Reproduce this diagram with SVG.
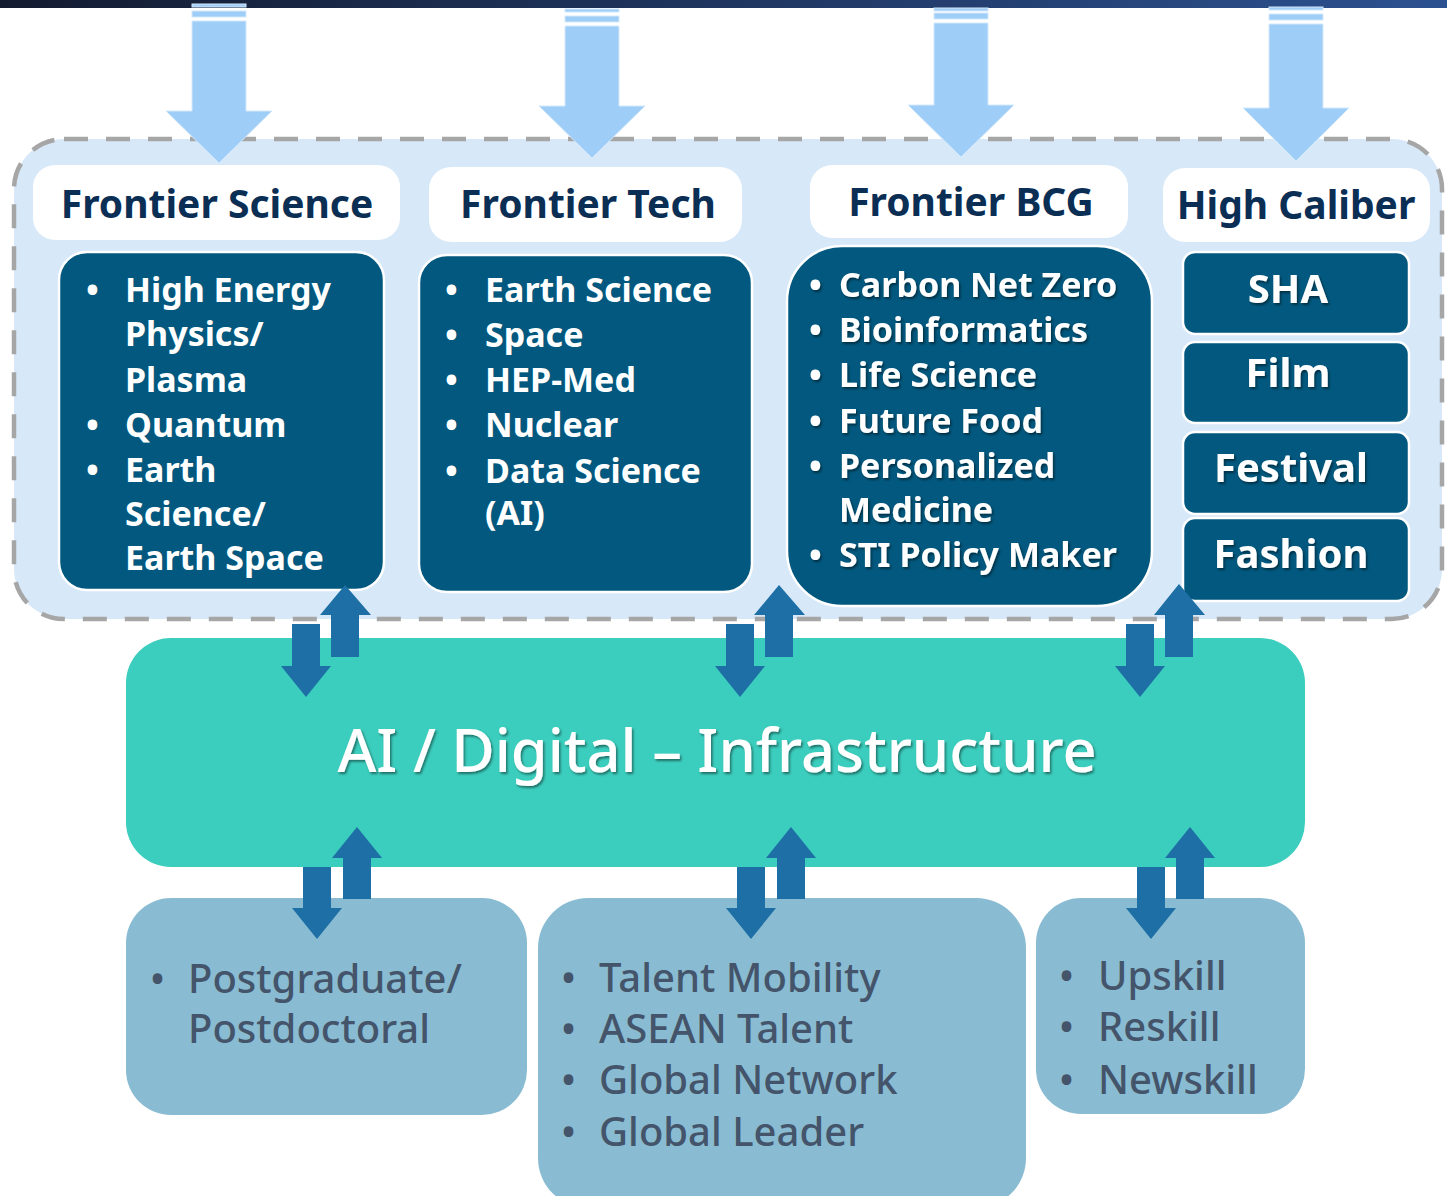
<svg xmlns="http://www.w3.org/2000/svg" width="1447" height="1196" viewBox="0 0 1447 1196">
<style>
.hdr{fill:#ffffff}
.hdrt{font-family:"Noto Sans","Open Sans",sans-serif;font-weight:700;font-size:39px;fill:#0b2e55;text-anchor:middle}
.dark{fill:#02587e;stroke:#ffffff;stroke-width:2.5}
.wt{font-family:"Noto Sans","Open Sans",sans-serif;font-weight:700;font-size:34px;fill:#ffffff}
.hc{font-family:"Noto Sans","Open Sans",sans-serif;font-weight:700;font-size:40px;fill:#ffffff;text-anchor:middle}
.bot{fill:#89bcd2}
.bt{font-family:"Noto Sans","Open Sans",sans-serif;font-weight:500;font-size:40px;fill:#44546a}
.la{fill:#9ecdf7;stroke:#d3e9fc;stroke-width:1}
.da{fill:#1d6fa5}
</style>
<defs>
<linearGradient id="bar" x1="0" y1="0" x2="1" y2="0">
<stop offset="0" stop-color="#131b30"/>
<stop offset="1" stop-color="#2c5190"/>
</linearGradient>
<filter id="sh" x="-10%" y="-20%" width="120%" height="150%">
<feDropShadow dx="1.5" dy="2" stdDeviation="1" flood-color="#000" flood-opacity="0.45"/>
</filter>
</defs>
<rect width="1447" height="1196" fill="#ffffff"/>
<rect x="0" y="0" width="1447" height="8" fill="url(#bar)"/>

<g id="panel">
<rect x="14" y="139" width="1428" height="480" rx="50" fill="#d7e8f9" stroke="#a6a6a6" stroke-width="4.5" stroke-dasharray="24 18"/>
</g>

<g id="frontier-science">
<rect class="hdr" x="33" y="165" width="367" height="75" rx="22"/>
<text class="hdrt" x="217" y="218">Frontier Science</text>
<rect class="dark" x="59" y="252" width="325" height="338" rx="28"/>
<g class="wt">
<text x="86" y="302">•</text><text x="125" y="302">High Energy</text>
<text x="125" y="346">Physics/</text>
<text x="125" y="392">Plasma</text>
<text x="86" y="437">•</text><text x="125" y="437">Quantum</text>
<text x="86" y="482">•</text><text x="125" y="482">Earth</text>
<text x="125" y="526">Science/</text>
<text x="125" y="570">Earth Space</text>
</g>
</g>

<g id="frontier-tech">
<rect class="hdr" x="429" y="167" width="313" height="75" rx="22"/>
<text class="hdrt" x="588" y="218">Frontier Tech</text>
<rect class="dark" x="419" y="255" width="333" height="337" rx="28"/>
<g class="wt">
<text x="445" y="302">•</text><text x="485" y="302">Earth Science</text>
<text x="445" y="347">•</text><text x="485" y="347">Space</text>
<text x="445" y="392">•</text><text x="485" y="392">HEP-Med</text>
<text x="445" y="437">•</text><text x="485" y="437">Nuclear</text>
<text x="445" y="483">•</text><text x="485" y="483">Data Science</text>
<text x="485" y="525">(AI)</text>
</g>
</g>

<g id="frontier-bcg">
<rect class="hdr" x="810" y="165" width="318" height="73" rx="22"/>
<text class="hdrt" x="971" y="216">Frontier BCG</text>
<rect class="dark" x="787" y="246" width="365" height="360" rx="55"/>
<g class="wt" filter="url(#sh)">
<text x="809" y="297">•</text><text x="839" y="297">Carbon Net Zero</text>
<text x="809" y="342">•</text><text x="839" y="342">Bioinformatics</text>
<text x="809" y="387">•</text><text x="839" y="387">Life Science</text>
<text x="809" y="433">•</text><text x="839" y="433">Future Food</text>
<text x="809" y="478">•</text><text x="839" y="478">Personalized</text>
<text x="839" y="522">Medicine</text>
<text x="809" y="567">•</text><text x="839" y="567">STI Policy Maker</text>
</g>
</g>

<g id="high-caliber">
<rect class="hdr" x="1163" y="168" width="267" height="74" rx="22"/>
<text class="hdrt" x="1296" y="219">High Caliber</text>
</g>
<g id="sha">
<rect class="dark" x="1183" y="252" width="226" height="82" rx="12"/>
<text class="hc" x="1288" y="303" filter="url(#sh)">SHA</text>
</g>
<g id="film">
<rect class="dark" x="1183" y="342" width="226" height="81" rx="12"/>
<text class="hc" x="1288" y="387" filter="url(#sh)">Film</text>
</g>
<g id="festival">
<rect class="dark" x="1183" y="432" width="226" height="82" rx="12"/>
<text class="hc" x="1291" y="482" filter="url(#sh)">Festival</text>
</g>
<g id="fashion">
<rect class="dark" x="1183" y="518" width="226" height="83" rx="12"/>
<text class="hc" x="1291" y="568" filter="url(#sh)">Fashion</text>
</g>

<g id="ai-infrastructure">
<rect x="126" y="638" width="1179" height="229" rx="45" fill="#3bcdbd"/>
<text x="717" y="772" font-family="'Noto Sans','Open Sans',sans-serif" font-weight="500" font-size="59.5" fill="#ffffff" text-anchor="middle" filter="url(#sh)">AI / Digital – Infrastructure</text>
</g>

<g id="postgraduate">
<rect class="bot" x="126" y="898" width="401" height="217" rx="45"/>
<g class="bt">
<text x="150" y="993">•</text><text x="188" y="993">Postgraduate/</text>
<text x="188" y="1043">Postdoctoral</text>
</g>
</g>

<g id="talent">
<rect class="bot" x="538" y="898" width="488" height="310" rx="50"/>
<g class="bt">
<text x="561" y="992">•</text><text x="599" y="992">Talent Mobility</text>
<text x="561" y="1043">•</text><text x="599" y="1043">ASEAN Talent</text>
<text x="561" y="1094">•</text><text x="599" y="1094">Global Network</text>
<text x="561" y="1146">•</text><text x="599" y="1146">Global Leader</text>
</g>
</g>

<g id="skills">
<rect class="bot" x="1036" y="898" width="269" height="216" rx="45"/>
<g class="bt">
<text x="1059" y="990">•</text><text x="1098" y="990">Upskill</text>
<text x="1059" y="1041">•</text><text x="1098" y="1041">Reskill</text>
<text x="1059" y="1094">•</text><text x="1098" y="1094">Newskill</text>
</g>
</g>

<g id="connectors">
<rect class="la" x="192" y="4" width="54" height="3"/>
<rect class="la" x="192" y="11" width="54" height="6"/>
<path class="la" d="M192 21 H246 V111 H272 L219 163 L166 111 H192 Z"/>
<rect class="la" x="565" y="9" width="54" height="3"/>
<rect class="la" x="565" y="16" width="54" height="6"/>
<path class="la" d="M565 26 H619 V106 H645 L592 158 L539 106 H565 Z"/>
<rect class="la" x="934" y="8" width="54" height="3"/>
<rect class="la" x="934" y="13" width="54" height="6"/>
<path class="la" d="M934 23 H988 V105 H1014 L961 157 L908 105 H934 Z"/>
<rect class="la" x="1269" y="7" width="54" height="3"/>
<rect class="la" x="1269" y="14" width="54" height="6"/>
<path class="la" d="M1269 24 H1323 V108 H1349 L1296 161 L1243 108 H1269 Z"/>
<path class="da" d="M292 624 H320 V666 H331 L306 697 L281 666 H292 Z"/>
<path class="da" d="M331 657 V615 H320 L345 585 L371 615 H359 V657 Z"/>
<path class="da" d="M726 624 H754 V666 H765 L740 697 L715 666 H726 Z"/>
<path class="da" d="M765 657 V615 H754 L779 585 L805 615 H793 V657 Z"/>
<path class="da" d="M1126 624 H1154 V666 H1165 L1140 697 L1115 666 H1126 Z"/>
<path class="da" d="M1165 657 V615 H1154 L1179 584 L1205 615 H1193 V657 Z"/>
<path class="da" d="M303 867 H331 V908 H342 L317 939 L292 908 H303 Z"/>
<path class="da" d="M343 899 V858 H332 L357 827 L382 858 H371 V899 Z"/>
<path class="da" d="M737 867 H765 V908 H776 L751 939 L726 908 H737 Z"/>
<path class="da" d="M777 899 V858 H766 L791 827 L816 858 H805 V899 Z"/>
<path class="da" d="M1137 867 H1165 V908 H1176 L1151 939 L1126 908 H1137 Z"/>
<path class="da" d="M1176 899 V858 H1165 L1190 827 L1215 858 H1204 V899 Z"/>
</g>
</svg>
